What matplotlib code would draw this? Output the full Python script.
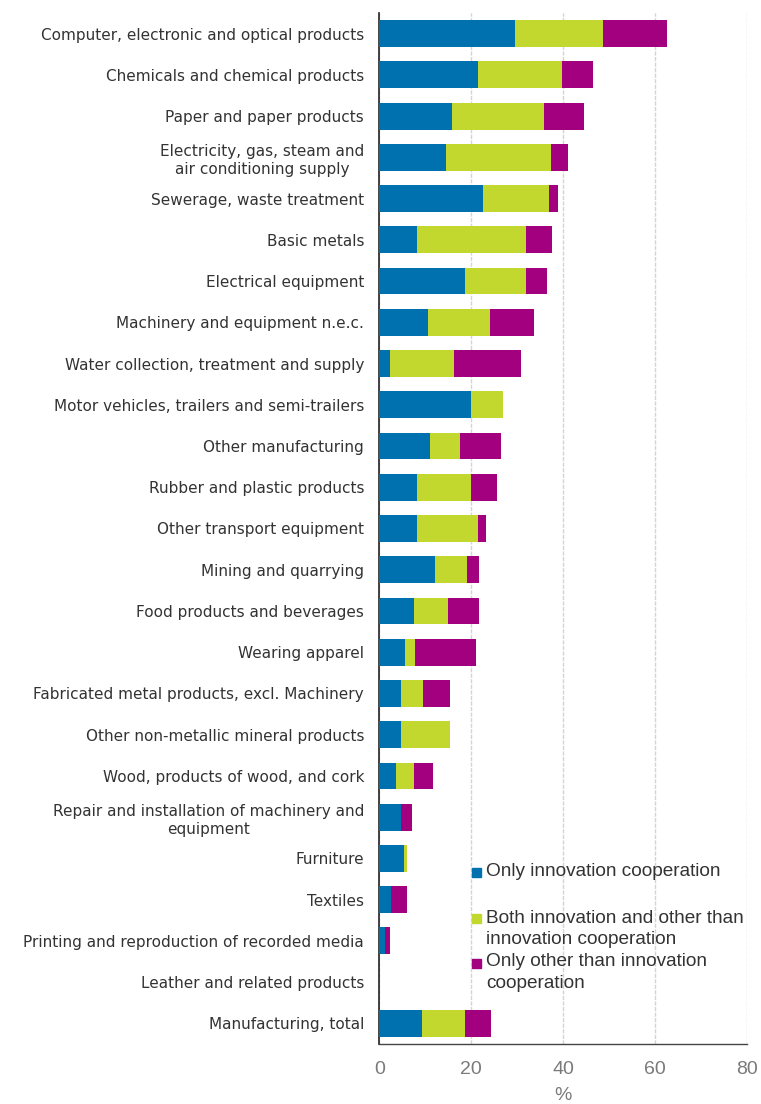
import matplotlib
matplotlib.use("Agg")
import matplotlib.pyplot as plt
from matplotlib.patches import Rectangle
import numpy as np

plt.rcParams['font.family'] = ['Liberation Sans', 'DejaVu Sans']

categories = [
    "Computer, electronic and optical products",
    "Chemicals and chemical products",
    "Paper and paper products",
    "Electricity, gas, steam and\nair conditioning supply",
    "Sewerage, waste treatment",
    "Basic metals",
    "Electrical equipment",
    "Machinery and equipment n.e.c.",
    "Water collection, treatment and supply",
    "Motor vehicles, trailers and semi-trailers",
    "Other manufacturing",
    "Rubber and plastic products",
    "Other transport equipment",
    "Mining and quarrying",
    "Food products and beverages",
    "Wearing apparel",
    "Fabricated metal products, excl. Machinery",
    "Other non-metallic mineral products",
    "Wood, products of wood, and cork",
    "Repair and installation of machinery and\nequipment",
    "Furniture",
    "Textiles",
    "Printing and reproduction of recorded media",
    "Leather and related products",
    "Manufacturing, total",
]

only_innovation = [29.6, 21.5, 15.9, 14.5, 22.6, 8.3, 18.7, 10.7, 2.3, 20.0,
                   11.0, 8.3, 8.3, 12.1, 7.6, 5.7, 4.7, 4.7, 3.7, 4.7,
                   5.4, 2.6, 1.2, 0.0, 9.3]
both = [19.1, 18.2, 19.9, 22.8, 14.3, 23.7, 13.3, 13.3, 14.0, 7.0,
        6.6, 11.7, 13.1, 6.9, 7.3, 2.1, 4.9, 10.6, 3.8, 0.0,
        0.7, 0.0, 0.0, 0.0, 9.4]
only_other = [14.0, 6.9, 8.7, 3.7, 2.1, 5.5, 4.5, 9.7, 14.6, 0.0,
              8.8, 5.7, 1.8, 2.8, 6.9, 13.3, 5.9, 0.0, 4.2, 2.5,
              0.0, 3.5, 1.1, 0.0, 5.6]

series_names = ["Only innovation cooperation",
                "Both innovation and other than\ninnovation cooperation",
                "Only other than innovation\ncooperation"]
colors = ["#0071AF", "#C2D82E", "#A3007F"]
x_ticks = [0, 20, 40, 60, 80]

fig = plt.figure(figsize=(7.61, 11.04), dpi=100)
ax = fig.add_axes([379.3/761, 1 - 1044/1104, (746.7-379.3)/761, (1044-13)/1104])

y = np.arange(len(categories))
left = np.zeros(len(categories))
for vals, col in zip([only_innovation, both, only_other], colors):
    v = np.array(vals)
    ax.barh(y, v, left=left, height=0.65, color=col, edgecolor='none', zorder=3)
    left += v

ax.set_ylim(len(categories) - 0.5, -0.5)
ax.set_xlim(0, 80)
ax.set_yticks(y)
ax.set_yticklabels(categories, fontsize=11, color='#333333',
                   multialignment='center', family=['DejaVu Sans'],
                   linespacing=1.3)
ax.set_xticks(x_ticks)
ax.set_xticklabels([str(t) for t in x_ticks], fontsize=14, color='#7a7a7a')
ax.tick_params(axis='y', length=0, pad=11)
ax.tick_params(axis='x', length=0, pad=12)
ax.xaxis.grid(True, color='#d4d4d4', linewidth=1.0, linestyle=(0, (3, 1)), zorder=0)
ax.set_axisbelow(True)
for s in ['top', 'right']:
    ax.spines[s].set_visible(False)
ax.spines['left'].set_color('#222222')
ax.spines['left'].set_linewidth(1.2)
ax.spines['bottom'].set_color('#444444')
ax.spines['bottom'].set_linewidth(1.0)
ax.set_xlabel('%', fontsize=14, color='#7a7a7a', labelpad=7)

# legend (manual layout): marker aligned with first text line
leg_marker_y = [872.5, 918, 963]
leg_text_y = [872, 929, 972.5]
for my, ty, name, col in zip(leg_marker_y, leg_text_y, series_names, colors):
    fig.patches.append(Rectangle((471.5/761, 1 - (my + 4.5)/1104), 9/761, 9/1104,
                                 transform=fig.transFigure, color=col))
    fig.text(486/761, 1 - ty/1104, name, fontsize=13.7, color='#333333',
             va='center', ha='left', linespacing=1.35)

fig.savefig("out.png", dpi=100)
